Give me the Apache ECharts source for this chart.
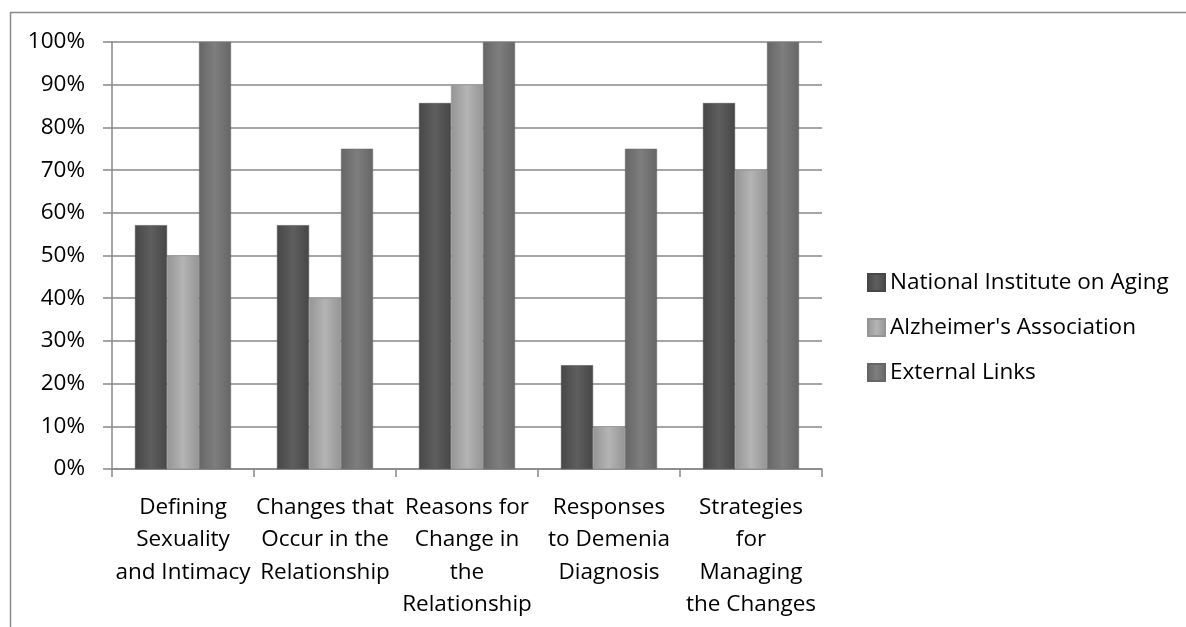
<!DOCTYPE html>
<html>
<head>
<meta charset="utf-8">
<script src="https://cdn.jsdelivr.net/npm/echarts@6/dist/echarts.min.js"></script>
<style>
html,body{margin:0;padding:0;background:#fff;}
#chart{width:1186px;height:627px;}
</style>
</head>
<body>
<div id="chart"></div>
<script>
const categories = [
  "Defining\nSexuality\nand Intimacy",
  "Changes that\nOccur in the\nRelationship",
  "Reasons for\nChange in\nthe\nRelationship",
  "Responses\nto Demenia\nDiagnosis",
  "Strategies\nfor\nManaging\nthe Changes"
];
const seriesNames = ["National Institute on Aging", "Alzheimer's Association", "External Links"];
const niaValues = [57.1, 57.1, 85.7, 24.3, 85.7];
const alzValues = [50, 40, 90, 10, 70];
const extValues = [100, 75, 100, 75, 100];
const yTicks = [0, 10, 20, 30, 40, 50, 60, 70, 80, 90, 100];

function grad(edge, mid) {
  return new echarts.graphic.LinearGradient(0, 0, 1, 0, [
    {offset: 0, color: edge},
    {offset: 0.5, color: mid},
    {offset: 1, color: edge}
  ]);
}
const FONT = "Open Sans";
const chart = echarts.init(document.getElementById('chart'));
function mk(name, data, edge, mid) {
  return {
    name: name, type: 'bar', data: data, barWidth: 32, barGap: '0%',
    itemStyle: {color: grad(edge, mid), borderColor: edge, borderWidth: 0.5},
    emphasis: {disabled: true}
  };
}
chart.setOption({
  animation: false,
  graphic: [{
    type: 'rect', shape: {x: 10.5, y: 12.5, width: 1200, height: 700},
    style: {fill: 'none', stroke: '#8c8c8c', lineWidth: 1.5}, silent: true, z: -1
  }],
  grid: {left: 112, right: 364, top: 42, bottom: 158, containLabel: false},
  legend: {
    orient: 'vertical', left: 862, top: 266, itemWidth: 17, itemHeight: 17, itemGap: 22,
    icon: 'rect',
    textStyle: {fontFamily: FONT, fontSize: 22.5, color: '#000'},
    data: seriesNames
  },
  xAxis: {
    type: 'category', data: categories,
    axisLine: {lineStyle: {color: '#888', width: 1.5}},
    axisTick: {show: true, length: 8, lineStyle: {color: '#888', width: 1.5}},
    axisLabel: {fontFamily: FONT, fontSize: 22.5, color: '#000', lineHeight: 32.5, margin: 22, interval: 0, align: 'center'}
  },
  yAxis: {
    type: 'value', min: 0, max: 100, interval: 10,
    axisLine: {show: true, lineStyle: {color: '#888', width: 1.5}},
    axisTick: {show: true, length: 9, lineStyle: {color: '#888', width: 1.5}},
    splitLine: {lineStyle: {color: '#888', width: 1.5}},
    axisLabel: {fontFamily: FONT, fontSize: 22.5, color: '#000', margin: 27,
      formatter: function (v) { return yTicks.indexOf(v) >= 0 ? v + '%' : ''; }}
  },
  series: [
    mk(seriesNames[0], niaValues, '#474747', '#5e5e5e'),
    mk(seriesNames[1], alzValues, '#959595', '#b4b4b4'),
    mk(seriesNames[2], extValues, '#666666', '#7e7e7e')
  ]
});
</script>
</body>
</html>
